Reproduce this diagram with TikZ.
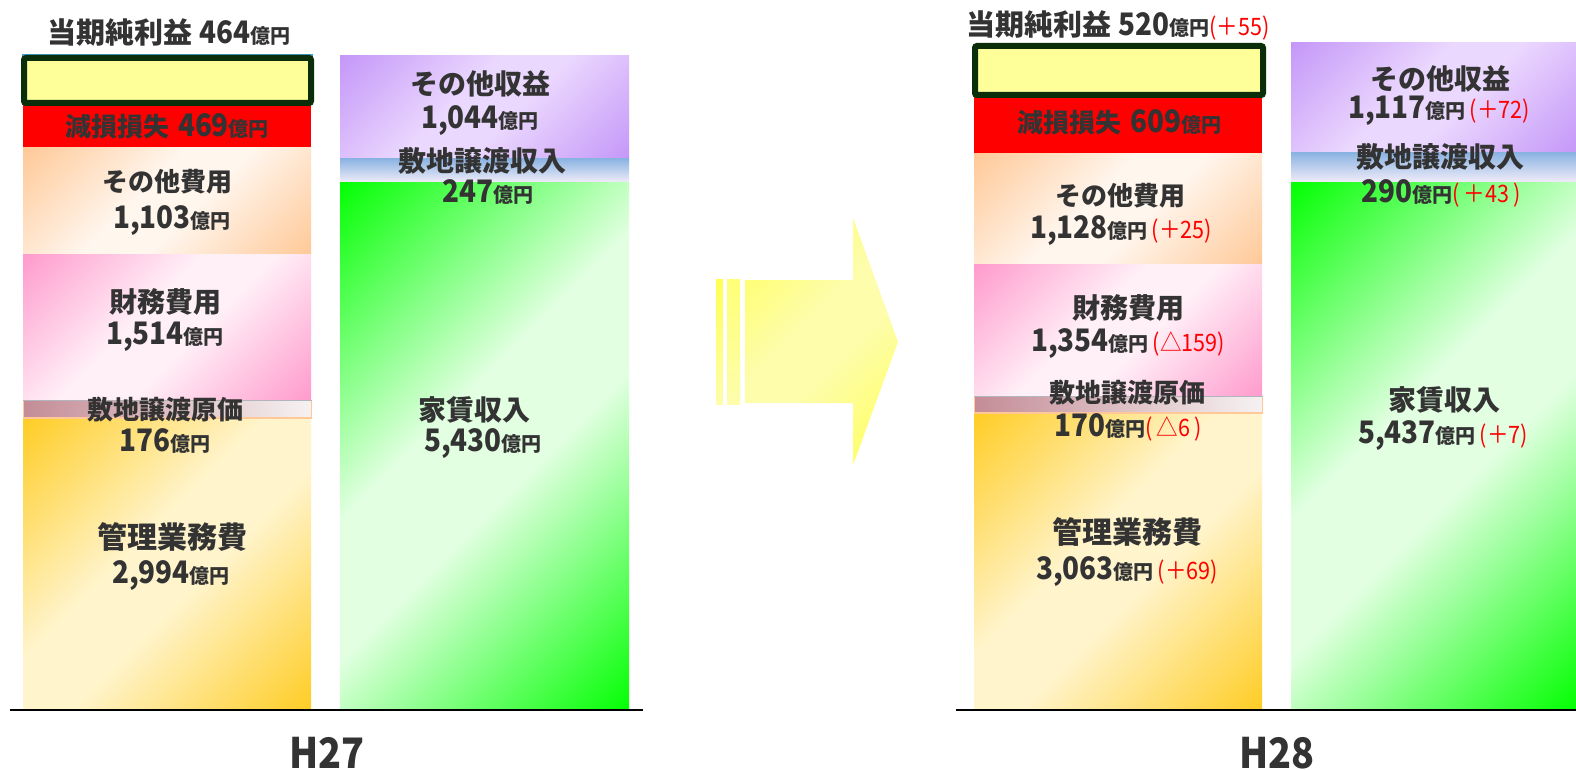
\documentclass[tikz,border=0pt]{standalone}
\usepackage{fontspec}
\setmainfont{Noto Sans CJK JP}
\newfontfamily\nf{Noto Sans CJK JP}[FakeStretch=0.9]
\definecolor{txt}{HTML}{333333}
\definecolor{boxbd}{HTML}{0A2E0A}
\definecolor{boxfill}{HTML}{FFFF99}
\definecolor{teal}{HTML}{3FA0C8}
\definecolor{peachO}{HTML}{FFC896}
\definecolor{peachM}{HTML}{FFF6EE}
\definecolor{pinkO}{HTML}{FF99CC}
\definecolor{pinkM}{HTML}{FFF0F7}
\definecolor{orgO}{HTML}{FFCC22}
\definecolor{orgM}{HTML}{FFF4CC}
\definecolor{purO}{HTML}{C496F8}
\definecolor{purM}{HTML}{EBD8FE}
\definecolor{grnO}{HTML}{00FF00}
\definecolor{grnM}{HTML}{E2FFE2}
\definecolor{bluT}{HTML}{8CB4E2}
\definecolor{bluB}{HTML}{F4EEFA}
\definecolor{roseL}{HTML}{C48C96}
\definecolor{roseR}{HTML}{F6F2F2}
\definecolor{roseBd}{HTML}{FFC896}
\definecolor{grayln}{HTML}{B4B4BC}
\definecolor{arrY}{HTML}{FFFF55}
\definecolor{arrM}{HTML}{FDFDAC}
\colorlet{gO}{peachO}
\colorlet{gM}{peachM}
\pgfdeclareverticalshading[gO,gM]{diag3}{100bp}{%
  color(0bp)=(gO); color(14bp)=(gO); color(44bp)=(gM); color(56bp)=(gM);
  color(86bp)=(gO); color(100bp)=(gO)}
\newcommand\xT[1]{{\fontsize{29}{30}\selectfont #1}}
\newcommand\xL[1]{{\fontsize{28}{30}\selectfont #1}}
\newcommand\xS[1]{{\fontsize{26}{28}\selectfont #1}}
\newcommand\xB[1]{{\fontsize{30}{32}\selectfont #1}}
\newcommand\xN[1]{{\nf\fontsize{31}{32}\selectfont #1}}
\newcommand\xU{{\fontsize{20}{22}\selectfont 億円}}
\newcommand\xD[1]{{\nf\mdseries\fontsize{24}{26}\selectfont\color{red}#1}}
\tikzset{
  lbl/.style={anchor=base, inner sep=0pt, text=txt, font=\bfseries},
  g3/.style 2 args={/utils/exec={\colorlet{gO}{#1}\colorlet{gM}{#2}}, shading=diag3, shading angle=45},
  profit/.style={line width=6pt, draw=boxbd, fill=boxfill, rounded corners=2pt},
  band/.style={top color=bluT, bottom color=bluB},
  roseband/.style={left color=roseL, right color=roseR},
  axisline/.style={line width=2.5pt, draw=black},
}
\begin{document}
\begin{tikzpicture}[x=1pt,y=-1pt]
\useasboundingbox[fill=white] (0,0) rectangle (1576,770);

% ===== H27 =====
\fill[teal] (22,54) rectangle (313,56.5);
\fill[red] (23,100) rectangle (311,148);
\shade[g3={peachO}{peachM}] (23,148) rectangle (311,254);
\shade[g3={pinkO}{pinkM}] (23,254) rectangle (311,400);
\shade[g3={orgO}{orgM}] (23,418) rectangle (311,710);
\shade[roseband] (23,400) rectangle (312,418);
\draw[roseBd, line width=1.5pt] (23.7,400.7) rectangle (311.5,418);
\draw[grayln, line width=1.2pt] (23,400.6) -- (312,400.6);
\draw[profit] (24,58) rectangle (311,103);
\shade[g3={purO}{purM}] (340,56) rectangle (629,159);
\shade[band] (340,159) rectangle (629,183);
\shade[g3={grnO}{grnM}] (340,183) rectangle (629,710);
\draw[axisline] (10,710) -- (643,710);

\node[lbl] (a-title) at (169,44) {\xT{当期純利益}\hspace{7pt}\xN{464}\xU};
\node[lbl] (a-gen) at (167,137) {\xS{減損損失}\hspace{9pt}\xN{469}\xU};
\node[lbl] (a-oth) at (167,192) {\xS{その他費用}};
\node[lbl] (a-othv) at (172,229) {\xN{1,103}\xU};
\node[lbl] (a-fin) at (165,312) {\xL{財務費用}};
\node[lbl] (a-finv) at (165,344) {\xN{1,514}\xU};
\node[lbl] (a-cost) at (165,419) {\xS{敷地譲渡原価}};
\node[lbl] (a-costv) at (165,451) {\xN{176}\xU};
\node[lbl] (a-mgmt) at (172,548) {\xB{管理業務費}};
\node[lbl] (a-mgmtv) at (171,583) {\xN{2,994}\xU};
\node[lbl] (a-oinc) at (480,95) {\xL{その他収益}};
\node[lbl] (a-oincv) at (480,129) {\xN{1,044}\xU};
\node[lbl] (a-land) at (482,172) {\xL{敷地譲渡収入}};
\node[lbl] (a-landv) at (488,203) {\xN{247}\xU};
\node[lbl] (a-rent) at (474,420) {\xL{家賃収入}};
\node[lbl] (a-rentv) at (483,451) {\xN{5,430}\xU};
\node[lbl] (a-year) at (327,768) {\nf\fontsize{42}{44}\selectfont H27};

% ===== arrow =====
\shade[top color=arrY, bottom color=arrM] (716,279) rectangle (723,404);
\shade[top color=arrY!80!white, bottom color=arrM] (727,279) rectangle (740,404);
\shade[g3={arrY}{arrM}] (745,280) -- (853,280) -- (853,218) -- (898,342) -- (853,465) -- (853,403) -- (745,403) -- cycle;

% ===== H28 =====
\fill[red] (974,92) rectangle (1262,154);
\shade[g3={peachO}{peachM}] (974,154) rectangle (1262,264);
\shade[g3={pinkO}{pinkM}] (974,264) rectangle (1262,397);
\shade[g3={orgO}{orgM}] (974,413) rectangle (1262,710);
\shade[roseband] (974,396) rectangle (1263,413);
\draw[roseBd, line width=1.5pt] (974.7,396.7) rectangle (1262.5,413);
\draw[grayln, line width=1.2pt] (974,396.6) -- (1263,396.6);
\draw[profit] (975,46) rectangle (1263,95);
\shade[g3={purO}{purM}] (1291,43) rectangle (1576,153);
\shade[band] (1291,153) rectangle (1576,183);
\shade[g3={grnO}{grnM}] (1291,183) rectangle (1576,710);
\draw[axisline] (956,710) -- (1576,710);

\node[lbl] (b-title) at (1118,36) {\xT{当期純利益}\hspace{7pt}\xN{520}\xU\xD{(＋55)}};
\node[lbl] (b-gen) at (1119,133) {\xS{減損損失}\hspace{9pt}\xN{609}\xU};
\node[lbl] (b-oth) at (1120,205) {\xS{その他費用}};
\node[lbl] (b-othv) at (1121,238) {\xN{1,128}\xU\hspace{4pt}\xD{(＋25)}};
\node[lbl] (b-fin) at (1128,318) {\xL{財務費用}};
\node[lbl] (b-finv) at (1128,351) {\xN{1,354}\xU\hspace{4pt}\xD{(△159)}};
\node[lbl] (b-cost) at (1127,402) {\xS{敷地譲渡原価}};
\node[lbl] (b-costv) at (1128,436) {\xN{170}\xU\xD{(\,△6\,)}};
\node[lbl] (b-mgmt) at (1127,543) {\xB{管理業務費}};
\node[lbl] (b-mgmtv) at (1127,579) {\xN{3,063}\xU\hspace{4pt}\xD{(＋69)}};
\node[lbl] (b-oinc) at (1440,90) {\xL{その他収益}};
\node[lbl] (b-oincv) at (1439,119) {\xN{1,117}\xU\hspace{4pt}\xD{(＋72)}};
\node[lbl] (b-land) at (1440,168) {\xL{敷地譲渡収入}};
\node[lbl] (b-landv) at (1441,203) {\xN{290}\xU\xD{(\,＋43\,)}};
\node[lbl] (b-rent) at (1444,410) {\xL{家賃収入}};
\node[lbl] (b-rentv) at (1443,443) {\xN{5,437}\xU\hspace{4pt}\xD{(＋7)}};
\node[lbl] (b-year) at (1277,768) {\nf\fontsize{42}{44}\selectfont H28};
\end{tikzpicture}
\end{document}
